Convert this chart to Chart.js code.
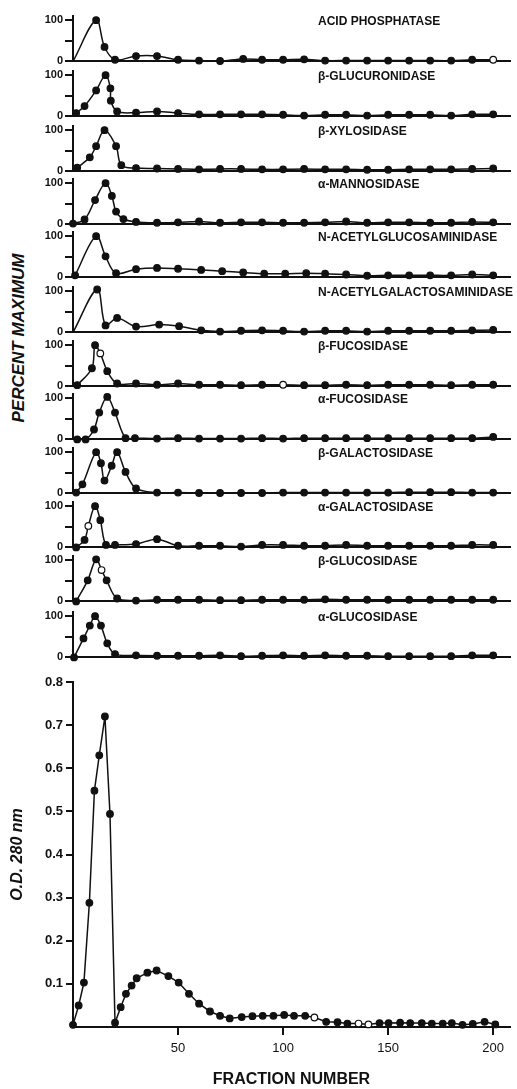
<!DOCTYPE html>
<html>
<head>
<meta charset="utf-8">
<script src="https://cdn.jsdelivr.net/npm/chart.js@4.4.1/dist/chart.umd.min.js"></script>
<style>
  body { margin: 0; background: #fff; width: 517px; height: 1089px; position: relative; overflow: hidden;
         font-family: "Liberation Sans", Arial, sans-serif; }
  .panel { position: absolute; left: 0; width: 517px; }
  #percentLabel { position: absolute; left: 19px; top: 338px; transform: translate(-50%, -50%) rotate(-90deg);
                  font: italic bold 17px "Liberation Sans", Arial, sans-serif; color: #111; white-space: nowrap; }
</style>
</head>
<body>
<div id="percentLabel">PERCENT MAXIMUM</div>
<script>
// Fraction axis shared by all panels
const fractionMax = 208;

// Enzyme panels: fraction number and percent of maximum activity
const acidPhosX = [0, 11, 15, 20, 30, 40, 50, 60, 70, 81, 90, 100, 110, 120, 130, 140, 150, 160, 170, 180, 190, 200];
const acidPhosY = [0, 100, 35, 4, 13, 13, 4, 2, 1, 6, 4, 4, 5, 2, 2, 2, 2, 2, 2, 2, 4, 4];

const bGlucuronX = [1.5, 5.5, 11, 15.5, 17.8, 18, 21, 30, 40, 50, 60, 70, 80, 90, 100, 110, 120, 130, 140, 150, 160, 170, 180, 190, 200];
const bGlucuronY = [8, 25, 63, 100, 68, 38, 12, 9, 12, 8, 5, 5, 5, 5, 4, 2, 4, 4, 2, 4, 4, 4, 2, 5, 5];

const bXylosX = [2, 8, 11, 15, 20.5, 23, 30, 40, 50, 60, 70, 80, 90, 100, 110, 120, 130, 140, 150, 160, 170, 180, 190, 200];
const bXylosY = [9, 34, 61, 100, 61, 15, 8, 7, 6, 5, 6, 6, 5, 5, 6, 5, 5, 4, 4, 5, 5, 5, 6, 7];

const aMannosX = [0, 5.5, 10.5, 15.5, 18.5, 20.5, 24, 30, 40, 50, 60, 70, 80, 90, 100, 110, 120, 130, 140, 150, 160, 170, 180, 190, 200];
const aMannosY = [2, 12, 59, 100, 69, 31, 13, 6, 4, 5, 7, 4, 5, 5, 4, 4, 5, 7, 4, 5, 5, 4, 4, 6, 5];

const nAcGlcX = [1, 11, 15.5, 20.5, 30, 40, 50, 61, 71, 81, 91, 101, 111, 120, 130, 140, 150, 160, 170, 180, 190, 200];
const nAcGlcY = [5, 100, 51, 10, 20, 23, 21, 18, 15, 12, 9, 9, 10, 9, 7, 4, 5, 5, 5, 5, 7, 5];

const nAcGalX = [0, 11.5, 15.5, 21, 30, 41, 50.5, 61, 70, 80, 90, 100, 110, 120, 130, 140, 150, 160, 170, 180, 190, 200];
const nAcGalY = [0, 104, 17, 35, 14, 19, 15, 5, 2, 4, 5, 4, 2, 4, 4, 2, 4, 4, 4, 4, 5, 6];

const bFucX = [2, 9, 10.5, 13, 16.3, 21, 30, 40, 50, 60, 70, 80, 90, 100, 110, 120, 130, 140, 150, 160, 170, 180, 190, 200];
const bFucY = [3, 44, 100, 80, 37, 7, 7, 4, 7, 4, 4, 3, 4, 4, 3, 3, 4, 3, 4, 4, 4, 3, 4, 4];

const aFucX = [2, 6, 10, 12.5, 16.3, 20, 25, 29.5, 40, 50, 60, 70, 80, 90, 100, 110, 120, 130, 140, 150, 160, 170, 180, 190, 200];
const aFucY = [0, 0, 24, 65, 103, 65, 3, 3, 2, 3, 2, 2, 2, 3, 2, 3, 3, 3, 3, 3, 3, 3, 3, 3, 6];

const bGalX = [1.5, 4.5, 11, 13.3, 15, 18.4, 21, 25, 30, 40, 50, 60, 70, 80, 90, 100, 110, 120, 130, 140, 150, 160, 170, 180, 190, 200];
const bGalY = [2, 22, 100, 73, 31, 67, 100, 52, 12, 2, 2, 1, 1, 1, 1, 2, 2, 2, 2, 2, 2, 3, 3, 3, 2, 2];

const aGalX = [1.5, 5.5, 7.3, 10.5, 13, 15.7, 20, 30, 40, 50, 60, 70, 80, 90, 100, 110, 120, 130, 140, 150, 160, 170, 180, 190, 200];
const aGalY = [0, 18, 52, 100, 66, 6, 6, 8, 20, 4, 4, 4, 2, 6, 6, 4, 4, 6, 4, 4, 4, 4, 4, 6, 6];

const bGlcX = [1.5, 7, 11, 13.6, 16, 21, 30, 40, 50, 60, 70, 80, 90, 100, 110, 120, 130, 140, 150, 160, 170, 180, 190, 200];
const bGlcY = [0, 51, 102, 76, 51, 7, 2, 4, 4, 4, 3, 3, 4, 4, 4, 5, 4, 4, 4, 4, 4, 4, 4, 4];

const aGlcX = [0.5, 5, 8, 10.5, 13.3, 16.3, 20, 30, 40, 50, 60, 70, 80, 90, 100, 110, 120, 130, 140, 150, 160, 170, 180, 190, 200];
const aGlcY = [0, 46, 77, 100, 77, 34, 8, 5, 4, 4, 4, 5, 3, 4, 5, 4, 5, 4, 4, 3, 3, 3, 3, 5, 5];

// Sephadex G-100 protein profile
const odX = [0, 2.7, 5.2, 7.8, 10.2, 12.5, 15.2, 17.6, 20, 22.7, 25.2, 27.9, 30.3, 35.4, 39.8, 45.4, 50.3, 55.2, 60,
             65.2, 70, 74.6, 80.3, 85.4, 90.3, 95.4, 100.5, 105.2, 110.5, 114.9, 120.5, 125.9, 130.6, 135.9, 140.6,
             145.9, 150.2, 155.7, 160.5, 166, 170.8, 176, 180.3, 185.4, 190.3, 195.9, 201];
const odY = [0.005, 0.05, 0.103, 0.288, 0.548, 0.63, 0.72, 0.494, 0.01, 0.046, 0.077, 0.096, 0.113, 0.126, 0.131,
             0.118, 0.103, 0.077, 0.054, 0.036, 0.026, 0.02, 0.023, 0.025, 0.026, 0.026, 0.028, 0.026, 0.026, 0.022,
             0.012, 0.011, 0.008, 0.008, 0.006, 0.009, 0.009, 0.01, 0.009, 0.009, 0.008, 0.008, 0.009, 0.005, 0.007,
             0.012, 0.006];
const odOpenIdx = [29, 33, 34];
const odTicks = [0.1, 0.2, 0.3, 0.4, 0.5, 0.6, 0.7, 0.8];
const fractionTicks = [50, 100, 150, 200];
const percentTicks = [0, 50, 100];

const panels = [
    { name: 'ACID PHOSPHATASE', x: acidPhosX, y: acidPhosY, open: [21], noDot: [0] },
    { name: 'β-GLUCURONIDASE', x: bGlucuronX, y: bGlucuronY, open: [], noDot: [] },
    { name: 'β-XYLOSIDASE', x: bXylosX, y: bXylosY, open: [], noDot: [] },
    { name: 'α-MANNOSIDASE', x: aMannosX, y: aMannosY, open: [], noDot: [] },
    { name: 'N-ACETYLGLUCOSAMINIDASE', x: nAcGlcX, y: nAcGlcY, open: [], noDot: [] },
    { name: 'N-ACETYLGALACTOSAMINIDASE', x: nAcGalX, y: nAcGalY, open: [], noDot: [0] },
    { name: 'β-FUCOSIDASE', x: bFucX, y: bFucY, open: [3, 13], noDot: [] },
    { name: 'α-FUCOSIDASE', x: aFucX, y: aFucY, open: [], noDot: [] },
    { name: 'β-GALACTOSIDASE', x: bGalX, y: bGalY, open: [], noDot: [] },
    { name: 'α-GALACTOSIDASE', x: aGalX, y: aGalY, open: [2], noDot: [] },
    { name: 'β-GLUCOSIDASE', x: bGlcX, y: bGlcY, open: [3], noDot: [] },
    { name: 'α-GLUCOSIDASE', x: aGlcX, y: aGlcY, open: [], noDot: [] }
];

// baseline (zero line) of each small panel, in page pixels
const panelBaselines = [62, 117, 172, 225, 278, 333, 387, 440, 494, 548, 602, 658];

const ink = '#111';
const fontFamily = '"Liberation Sans", Arial, sans-serif';

// draws the enzyme name to the right, level with the 100 tick
function nameLabel(text) {
    return {
        id: 'nameLabel',
        afterDraw(chart) {
            const ctx = chart.ctx;
            ctx.save();
            ctx.font = 'bold 12px ' + fontFamily;
            ctx.fillStyle = ink;
            ctx.textBaseline = 'middle';
            ctx.fillText(text, 318, chart.scales.y.getPixelForValue(100) + 2);
            ctx.restore();
        }
    };
}

function addCanvas(top, height) {
    const wrap = document.createElement('div');
    wrap.className = 'panel';
    wrap.style.top = top + 'px';
    wrap.style.height = height + 'px';
    const canvas = document.createElement('canvas');
    wrap.appendChild(canvas);
    document.body.appendChild(wrap);
    return canvas;
}

panels.forEach((p, i) => {
    const canvas = addCanvas(panelBaselines[i] - 58, 66);
    new Chart(canvas, {
        type: 'line',
        data: {
            datasets: [{
                data: p.x.map((v, k) => ({ x: v, y: p.y[k] })),
                borderColor: ink,
                borderWidth: 1.5,
                tension: 0.35,
                pointRadius: p.x.map((v, k) => p.noDot.includes(k) ? 0 : 3.3),
                pointBackgroundColor: p.x.map((v, k) => p.open.includes(k) ? '#fff' : ink),
                pointBorderColor: ink,
                pointBorderWidth: 1.2,
                clip: false
            }]
        },
        options: {
            responsive: true,
            maintainAspectRatio: false,
            animation: false,
            layout: { padding: { top: 12, right: 7, bottom: 0, left: 0 } },
            plugins: { legend: { display: false }, tooltip: { enabled: false } },
            scales: {
                x: {
                    type: 'linear', min: 0, max: fractionMax,
                    ticks: { display: false },
                    grid: { display: false, drawTicks: false },
                    border: { color: ink, width: 2 },
                    afterFit: s => { s.height = 8; }
                },
                y: {
                    min: 0, max: 110,
                    afterBuildTicks: s => { s.ticks = percentTicks.map(v => ({ value: v })); },
                    ticks: {
                        color: ink, padding: 2, autoSkip: false,
                        font: { family: fontFamily, size: 11, weight: 'bold' },
                        callback: v => v === 50 ? '' : v
                    },
                    grid: { drawOnChartArea: false, color: ink, lineWidth: 2, tickLength: 8 },
                    border: { color: ink, width: 2 },
                    afterFit: s => { s.width = 73; }
                }
            }
        },
        plugins: [nameLabel(p.name)]
    });
});

// Bottom panel: O.D. 280 nm
const odCanvas = addCanvas(670, 419);
new Chart(odCanvas, {
    type: 'line',
    data: {
        datasets: [{
            data: odX.map((v, k) => ({ x: v, y: odY[k] })),
            borderColor: ink,
            borderWidth: 1.5,
            tension: 0,
            pointRadius: 3.3,
            pointBackgroundColor: odX.map((v, k) => odOpenIdx.includes(k) ? '#fff' : ink),
            pointBorderColor: ink,
            pointBorderWidth: 1.2,
            clip: false
        }]
    },
    options: {
        responsive: true,
        maintainAspectRatio: false,
        animation: false,
        layout: { padding: { top: 12, right: 7, bottom: 0, left: 0 } },
        plugins: { legend: { display: false }, tooltip: { enabled: false } },
        scales: {
            x: {
                type: 'linear', min: 0, max: fractionMax,
                afterBuildTicks: s => { s.ticks = fractionTicks.map(v => ({ value: v })); },
                ticks: { color: ink, padding: 6, maxRotation: 0, autoSkip: false, font: { family: fontFamily, size: 13 } },
                grid: { drawOnChartArea: false, color: ink, lineWidth: 2, tickLength: 8 },
                border: { color: ink, width: 2 },
                title: {
                    display: true, text: 'FRACTION NUMBER', color: ink,
                    font: { family: fontFamily, size: 16, weight: 'bold' },
                    padding: { top: 0, bottom: 0 }
                },
                afterFit: s => { s.height = 62; }
            },
            y: {
                min: 0, max: 0.8,
                afterBuildTicks: s => { s.ticks = odTicks.map(v => ({ value: v })); },
                ticks: {
                    color: ink, padding: 3, autoSkip: false,
                    font: { family: fontFamily, size: 13, weight: 'bold' },
                    callback: v => v.toFixed(1)
                },
                grid: { drawOnChartArea: false, color: ink, lineWidth: 2, tickLength: 7 },
                border: { color: ink, width: 2 },
                title: {
                    display: true, text: 'O.D. 280 nm', color: ink,
                    font: { family: fontFamily, size: 16, weight: 'bold', style: 'italic' },
                    padding: { top: 8, bottom: 0 }
                },
                afterFit: s => { s.width = 73; }
            }
        }
    }
});
</script>
</body>
</html>
